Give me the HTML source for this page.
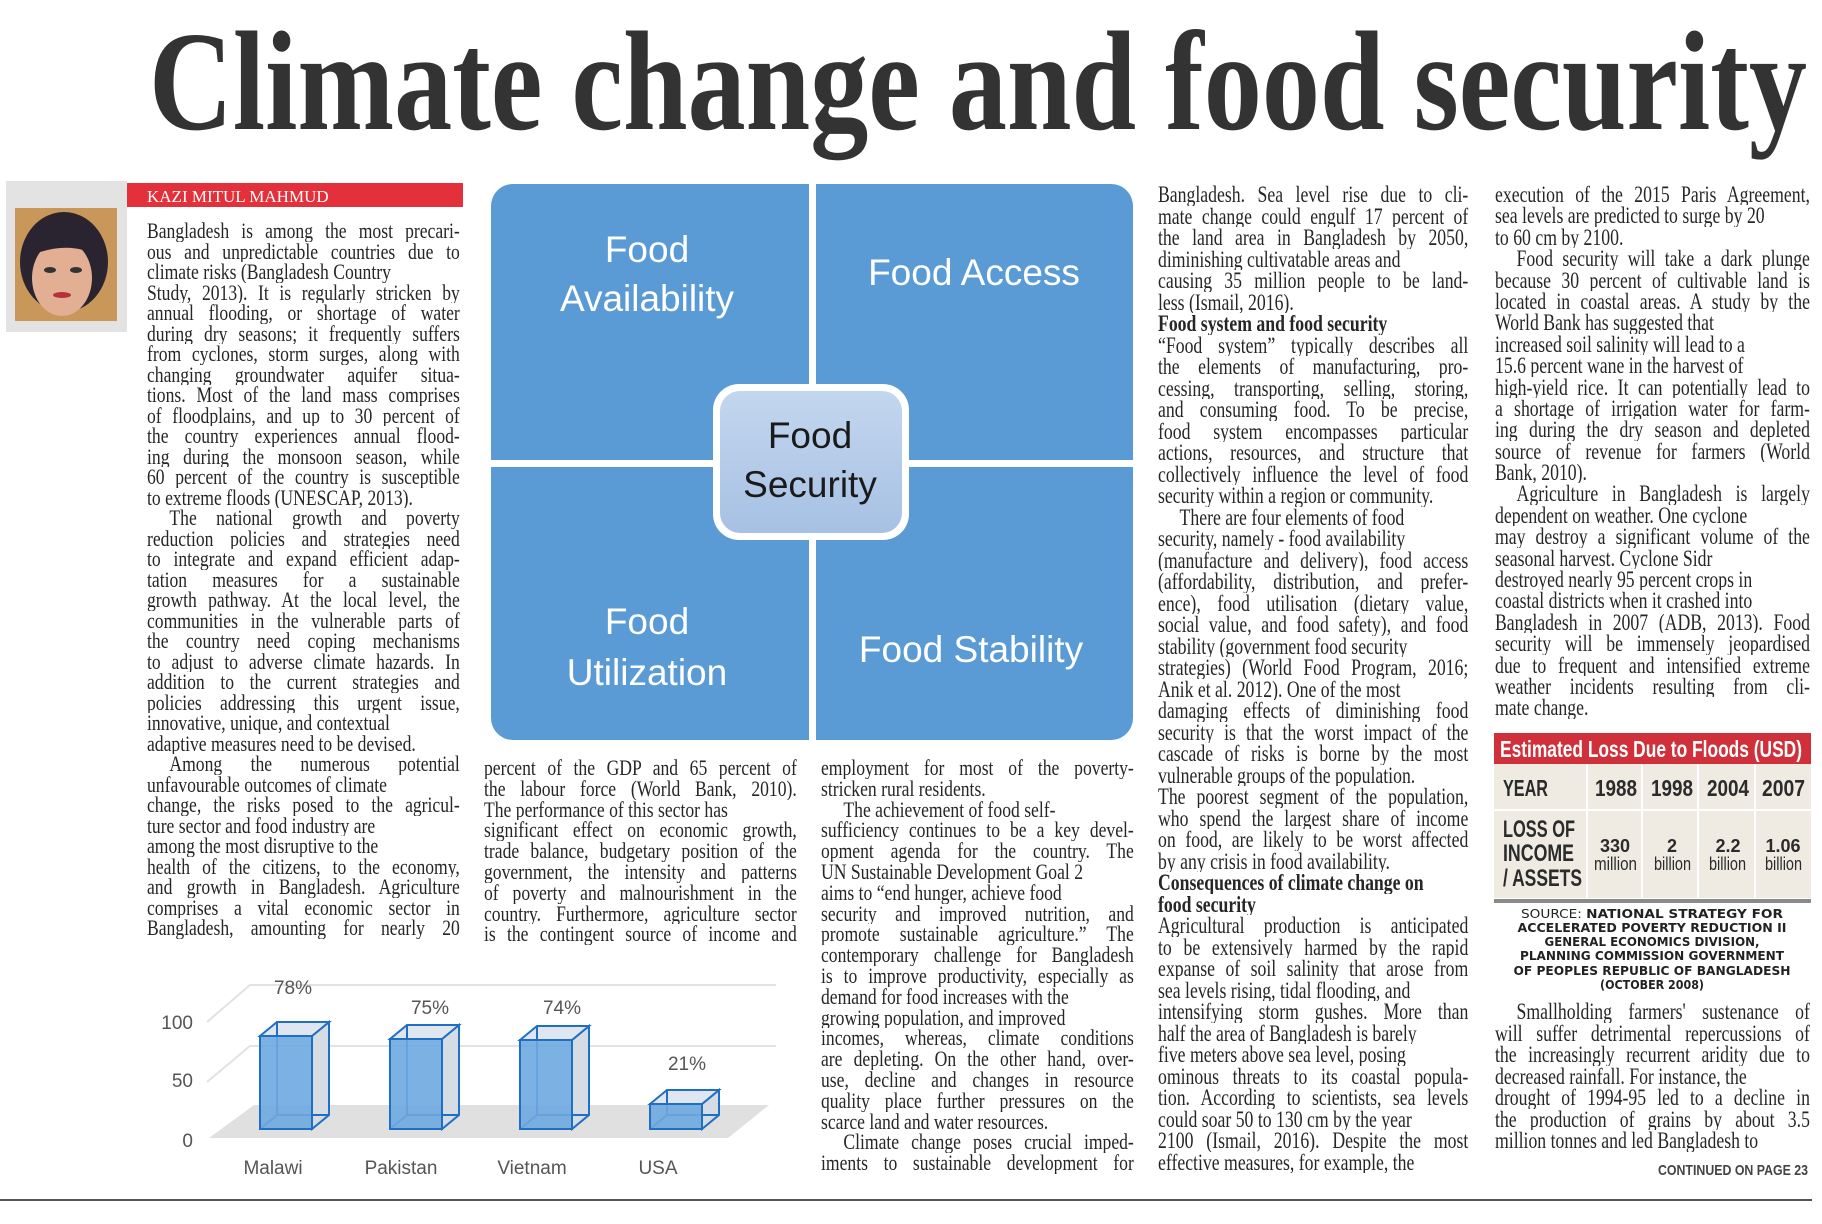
<!DOCTYPE html>
<html><head><meta charset="utf-8">
<style>
html,body{margin:0;padding:0;background:#fff;}
body{width:1822px;height:1224px;position:relative;overflow:hidden;}
svg.g{position:absolute;left:0;top:0;}
.c{position:absolute;transform-origin:0 0;font-family:"Liberation Serif",serif;color:#262626;}
.c p{margin:0;text-align:justify;text-align-last:justify;height:var(--lh);overflow:hidden;}
.c p.e{text-align-last:left;}
.c p.i{text-indent:28px;}
.c p.b{font-weight:bold;text-align-last:left;}
.c1 p,.c2 p,.c3 p{font-size:22px;}
.c4 p,.c5 p,.c6 p{font-size:23px;}
</style></head><body>

<svg class="g" width="1822" height="1224" viewBox="0 0 1822 1224">
  <defs>
    <linearGradient id="cg" x1="0" y1="0" x2="0" y2="1">
      <stop offset="0" stop-color="#c3d6ee"/><stop offset="1" stop-color="#a7c1e4"/>
    </linearGradient>
  </defs>
  <text x="149" y="129" font-family="Liberation Serif, serif" font-weight="bold" font-size="142" fill="#333" textLength="1658" lengthAdjust="spacingAndGlyphs">Climate change and food security</text>

  <rect x="6" y="181" width="121" height="151" fill="#e3e3e3"/>
  <rect x="15" y="208" width="102" height="113" fill="#c9975a"/>
  <ellipse cx="64" cy="262" rx="44" ry="50" fill="#2a2430"/>
  <ellipse cx="62" cy="278" rx="30" ry="38" fill="#e2ae94"/>
  <path d="M24 250 Q40 215 80 222 Q106 232 104 262 Q80 240 40 252 Z" fill="#2a2430"/>
  <ellipse cx="50" cy="270" rx="6" ry="3" fill="#333"/>
  <ellipse cx="76" cy="270" rx="6" ry="3" fill="#333"/>
  <ellipse cx="62" cy="295" rx="9" ry="3" fill="#b8303a"/>

  <rect x="127" y="183" width="336" height="24" fill="#e4303a"/>
  <text x="147" y="202" font-family="Liberation Serif, serif" font-size="17" fill="#fff">KAZI MITUL MAHMUD</text>

  <rect x="491" y="184" width="642" height="556" rx="22" fill="#5b9bd5"/>
  <rect x="809" y="184" width="7" height="556" fill="#fff"/>
  <rect x="491" y="460" width="642" height="7" fill="#fff"/>
  <rect x="713" y="384" width="196" height="156" rx="26" fill="#fff"/>
  <rect x="720" y="391" width="182" height="142" rx="20" fill="url(#cg)"/>
  <g font-family="Liberation Sans, sans-serif" font-size="37" fill="#fff" text-anchor="middle">
    <text x="647" y="262">Food</text>
    <text x="647" y="311">Availability</text>
    <text x="974" y="285">Food Access</text>
    <text x="647" y="634">Food</text>
    <text x="647" y="685">Utilization</text>
    <text x="971" y="662">Food Stability</text>
  </g>
  <g font-family="Liberation Sans, sans-serif" font-size="37" fill="#1a1a1a" text-anchor="middle">
    <text x="810" y="448">Food</text>
    <text x="810" y="497">Security</text>
  </g>

  <rect x="1494" y="733" width="317" height="31" fill="#d0303a"/>
  <text x="1500" y="757" font-family="Liberation Sans, sans-serif" font-weight="bold" font-size="23" fill="#fff" textLength="302" lengthAdjust="spacingAndGlyphs">Estimated Loss Due to Floods (USD)</text>
  <rect x="1494" y="764" width="317" height="134" fill="#efebe3"/>
  <g fill="#fff">
    <rect x="1586" y="764" width="2" height="134"/>
    <rect x="1641" y="764" width="2" height="134"/>
    <rect x="1697" y="764" width="2" height="134"/>
    <rect x="1754" y="764" width="2" height="134"/>
    <rect x="1494" y="809" width="317" height="2"/>
  </g>
  <g font-family="Liberation Sans, sans-serif" font-weight="bold" fill="#2b2b2b">
    <text x="1503" y="796" font-size="23" textLength="45" lengthAdjust="spacingAndGlyphs">YEAR</text>
    <text x="1595" y="796" font-size="23" textLength="42" lengthAdjust="spacingAndGlyphs">1988</text>
    <text x="1651" y="796" font-size="23" textLength="42" lengthAdjust="spacingAndGlyphs">1998</text>
    <text x="1707" y="796" font-size="23" textLength="42" lengthAdjust="spacingAndGlyphs">2004</text>
    <text x="1762" y="796" font-size="23" textLength="43" lengthAdjust="spacingAndGlyphs">2007</text>
    <text x="1503" y="837" font-size="24" textLength="72" lengthAdjust="spacingAndGlyphs">LOSS OF</text>
    <text x="1503" y="861" font-size="24" textLength="71" lengthAdjust="spacingAndGlyphs">INCOME</text>
    <text x="1503" y="886" font-size="24" textLength="79" lengthAdjust="spacingAndGlyphs">/ ASSETS</text>
    <g font-size="18" text-anchor="middle">
      <text x="1615" y="852">330</text>
      <text x="1672" y="852">2</text>
      <text x="1728" y="852">2.2</text>
      <text x="1783" y="852">1.06</text>
    </g>
  </g>
  <g font-family="Liberation Sans, sans-serif" font-size="18" fill="#2b2b2b">
    <text x="1594" y="870" textLength="43" lengthAdjust="spacingAndGlyphs">million</text>
    <text x="1654" y="870" textLength="37" lengthAdjust="spacingAndGlyphs">billion</text>
    <text x="1709" y="870" textLength="37" lengthAdjust="spacingAndGlyphs">billion</text>
    <text x="1765" y="870" textLength="37" lengthAdjust="spacingAndGlyphs">billion</text>
  </g>
  <rect x="1494" y="899" width="317" height="4" fill="#8a8a8a"/>
  <g font-family="DejaVu Sans, sans-serif" font-size="12.5" fill="#222" text-anchor="middle">
    <text x="1652" y="918" textLength="262" lengthAdjust="spacingAndGlyphs">SOURCE: <tspan font-weight="bold">NATIONAL STRATEGY FOR</tspan></text>
    <text x="1652" y="932" font-weight="bold" textLength="269" lengthAdjust="spacingAndGlyphs">ACCELERATED POVERTY REDUCTION II</text>
    <text x="1652" y="946" font-weight="bold" textLength="215" lengthAdjust="spacingAndGlyphs">GENERAL ECONOMICS DIVISION,</text>
    <text x="1652" y="960" font-weight="bold" textLength="264" lengthAdjust="spacingAndGlyphs">PLANNING COMMISSION GOVERNMENT</text>
    <text x="1652" y="975" font-weight="bold" textLength="277" lengthAdjust="spacingAndGlyphs">OF PEOPLES REPUBLIC OF BANGLADESH</text>
    <text x="1652" y="989" font-weight="bold" textLength="104" lengthAdjust="spacingAndGlyphs">(OCTOBER 2008)</text>
  </g>

  <polygon points="209,1138 728,1138 769,1105 254,1105" fill="#e0e0e0"/>
  <g stroke="#e2e2e2" stroke-width="2" fill="none">
    <polyline points="207,1022 250,985 776,985"/>
    <polyline points="207,1082 250,1046 776,1046"/>
  </g>
  <g font-family="Liberation Sans, sans-serif" font-size="19" fill="#555">
    <text x="193" y="1029" text-anchor="end">100</text>
    <text x="193" y="1087" text-anchor="end">50</text>
    <text x="193" y="1147" text-anchor="end">0</text>
    <g text-anchor="middle">
      <text x="293" y="994">78%</text>
      <text x="430" y="1014">75%</text>
      <text x="562" y="1014">74%</text>
      <text x="687" y="1070">21%</text>
      <text x="273" y="1174">Malawi</text>
      <text x="401" y="1174">Pakistan</text>
      <text x="532" y="1174">Vietnam</text>
      <text x="658" y="1174">USA</text>
    </g>
  </g>
  <g stroke="#1f6fc4" stroke-width="2">
    <polygon points="312,1036 329,1022 329,1115 312,1129" fill="#d6dce4"/>
    <polygon points="260,1036 277,1022 329,1022 312,1036" fill="#dfe6ef"/>
    <polyline points="277,1022 277,1115 329,1115" fill="none"/>
    <line x1="260" y1="1129" x2="277" y2="1115"/>
    <rect x="260" y="1036" width="52" height="93" fill="#6ea9e0" fill-opacity="0.9"/>
    <polygon points="442,1039 459,1025 459,1115 442,1129" fill="#d6dce4"/>
    <polygon points="390,1039 407,1025 459,1025 442,1039" fill="#dfe6ef"/>
    <polyline points="407,1025 407,1115 459,1115" fill="none"/>
    <line x1="390" y1="1129" x2="407" y2="1115"/>
    <rect x="390" y="1039" width="52" height="90" fill="#6ea9e0" fill-opacity="0.9"/>
    <polygon points="572,1040 589,1026 589,1115 572,1129" fill="#d6dce4"/>
    <polygon points="520,1040 537,1026 589,1026 572,1040" fill="#dfe6ef"/>
    <polyline points="537,1026 537,1115 589,1115" fill="none"/>
    <line x1="520" y1="1129" x2="537" y2="1115"/>
    <rect x="520" y="1040" width="52" height="89" fill="#6ea9e0" fill-opacity="0.9"/>
    <polygon points="702,1104 719,1090 719,1115 702,1129" fill="#d6dce4"/>
    <polygon points="650,1104 667,1090 719,1090 702,1104" fill="#dfe6ef"/>
    <polyline points="667,1090 667,1115 719,1115" fill="none"/>
    <line x1="650" y1="1129" x2="667" y2="1115"/>
    <rect x="650" y="1104" width="52" height="25" fill="#6ea9e0" fill-opacity="0.9"/>
  </g>

  <text x="1808" y="1175" text-anchor="end" font-family="Liberation Sans, sans-serif" font-weight="bold" font-size="15" fill="#444" textLength="150" lengthAdjust="spacingAndGlyphs">CONTINUED ON PAGE 23</text>
  <rect x="0" y="1199" width="1812" height="2" fill="#555"/>
</svg>

<div class="c c1" style="left:147px;top:221px;width:391px;transform:scaleX(0.80);line-height:20.5px;--lh:20.5px;">
<p>Bangladesh is among the most precari-</p>
<p>ous and unpredictable countries due to</p>
<p class="e">climate risks (Bangladesh Country</p>
<p>Study, 2013). It is regularly stricken by</p>
<p>annual flooding, or shortage of water</p>
<p>during dry seasons; it frequently suffers</p>
<p>from cyclones, storm surges, along with</p>
<p>changing groundwater aquifer situa-</p>
<p>tions. Most of the land mass comprises</p>
<p>of floodplains, and up to 30 percent of</p>
<p>the country experiences annual flood-</p>
<p>ing during the monsoon season, while</p>
<p>60 percent of the country is susceptible</p>
<p class="e">to extreme floods (UNESCAP, 2013).</p>
<p class="i">The national growth and poverty</p>
<p>reduction policies and strategies need</p>
<p>to integrate and expand efficient adap-</p>
<p>tation measures for a sustainable</p>
<p>growth pathway. At the local level, the</p>
<p>communities in the vulnerable parts of</p>
<p>the country need coping mechanisms</p>
<p>to adjust to adverse climate hazards. In</p>
<p>addition to the current strategies and</p>
<p>policies addressing this urgent issue,</p>
<p class="e">innovative, unique, and contextual</p>
<p class="e">adaptive measures need to be devised.</p>
<p class="i">Among the numerous potential</p>
<p class="e">unfavourable outcomes of climate</p>
<p>change, the risks posed to the agricul-</p>
<p class="e">ture sector and food industry are</p>
<p class="e">among the most disruptive to the</p>
<p>health of the citizens, to the economy,</p>
<p>and growth in Bangladesh. Agriculture</p>
<p>comprises a vital economic sector in</p>
<p>Bangladesh, amounting for nearly 20</p>
</div>

<div class="c c2" style="left:484px;top:758px;width:391px;transform:scaleX(0.80);line-height:20.8px;--lh:20.8px;">
<p>percent of the GDP and 65 percent of</p>
<p>the labour force (World Bank, 2010).</p>
<p class="e">The performance of this sector has</p>
<p>significant effect on economic growth,</p>
<p>trade balance, budgetary position of the</p>
<p>government, the intensity and patterns</p>
<p>of poverty and malnourishment in the</p>
<p>country. Furthermore, agriculture sector</p>
<p>is the contingent source of income and</p>
</div>

<div class="c c3" style="left:821px;top:758px;width:391px;transform:scaleX(0.80);line-height:20.8px;--lh:20.8px;">
<p>employment for most of the poverty-</p>
<p class="e">stricken rural residents.</p>
<p class="i e">The achievement of food self-</p>
<p>sufficiency continues to be a key devel-</p>
<p>opment agenda for the country. The</p>
<p class="e">UN Sustainable Development Goal 2</p>
<p class="e">aims to “end hunger, achieve food</p>
<p>security and improved nutrition, and</p>
<p>promote sustainable agriculture.” The</p>
<p>contemporary challenge for Bangladesh</p>
<p>is to improve productivity, especially as</p>
<p class="e">demand for food increases with the</p>
<p class="e">growing population, and improved</p>
<p>incomes, whereas, climate conditions</p>
<p>are depleting. On the other hand, over-</p>
<p>use, decline and changes in resource</p>
<p>quality place further pressures on the</p>
<p class="e">scarce land and water resources.</p>
<p class="i">Climate change poses crucial imped-</p>
<p>iments to sustainable development for</p>
</div>

<div class="c c4" style="left:1158px;top:184px;width:403px;transform:scaleX(0.77);line-height:21.5px;--lh:21.5px;">
<p>Bangladesh. Sea level rise due to cli-</p>
<p>mate change could engulf 17 percent of</p>
<p>the land area in Bangladesh by 2050,</p>
<p class="e">diminishing cultivatable areas and</p>
<p>causing 35 million people to be land-</p>
<p class="e">less (Ismail, 2016).</p>
<p class="b">Food system and food security</p>
<p>“Food system” typically describes all</p>
<p>the elements of manufacturing, pro-</p>
<p>cessing, transporting, selling, storing,</p>
<p>and consuming food. To be precise,</p>
<p>food system encompasses particular</p>
<p>actions, resources, and structure that</p>
<p>collectively influence the level of food</p>
<p class="e">security within a region or community.</p>
<p class="i e">There are four elements of food</p>
<p class="e">security, namely - food availability</p>
<p>(manufacture and delivery), food access</p>
<p>(affordability, distribution, and prefer-</p>
<p>ence), food utilisation (dietary value,</p>
<p>social value, and food safety), and food</p>
<p class="e">stability (government food security</p>
<p>strategies) (World Food Program, 2016;</p>
<p class="e">Anik et al. 2012). One of the most</p>
<p>damaging effects of diminishing food</p>
<p>security is that the worst impact of the</p>
<p>cascade of risks is borne by the most</p>
<p class="e">vulnerable groups of the population.</p>
<p>The poorest segment of the population,</p>
<p>who spend the largest share of income</p>
<p>on food, are likely to be worst affected</p>
<p class="e">by any crisis in food availability.</p>
<p class="b">Consequences of climate change on</p>
<p class="b">food security</p>
<p>Agricultural production is anticipated</p>
<p>to be extensively harmed by the rapid</p>
<p>expanse of soil salinity that arose from</p>
<p class="e">sea levels rising, tidal flooding, and</p>
<p>intensifying storm gushes. More than</p>
<p class="e">half the area of Bangladesh is barely</p>
<p class="e">five meters above sea level, posing</p>
<p>ominous threats to its coastal popula-</p>
<p>tion. According to scientists, sea levels</p>
<p class="e">could soar 50 to 130 cm by the year</p>
<p>2100 (Ismail, 2016). Despite the most</p>
<p class="e">effective measures, for example, the</p>
</div>

<div class="c c5" style="left:1495px;top:184px;width:409px;transform:scaleX(0.77);line-height:21.4px;--lh:21.4px;">
<p>execution of the 2015 Paris Agreement,</p>
<p class="e">sea levels are predicted to surge by 20</p>
<p class="e">to 60 cm by 2100.</p>
<p class="i">Food security will take a dark plunge</p>
<p>because 30 percent of cultivable land is</p>
<p>located in coastal areas. A study by the</p>
<p class="e">World Bank has suggested that</p>
<p class="e">increased soil salinity will lead to a</p>
<p class="e">15.6 percent wane in the harvest of</p>
<p>high-yield rice. It can potentially lead to</p>
<p>a shortage of irrigation water for farm-</p>
<p>ing during the dry season and depleted</p>
<p>source of revenue for farmers (World</p>
<p class="e">Bank, 2010).</p>
<p class="i">Agriculture in Bangladesh is largely</p>
<p class="e">dependent on weather. One cyclone</p>
<p>may destroy a significant volume of the</p>
<p class="e">seasonal harvest. Cyclone Sidr</p>
<p class="e">destroyed nearly 95 percent crops in</p>
<p class="e">coastal districts when it crashed into</p>
<p>Bangladesh in 2007 (ADB, 2013). Food</p>
<p>security will be immensely jeopardised</p>
<p>due to frequent and intensified extreme</p>
<p>weather incidents resulting from cli-</p>
<p class="e">mate change.</p>
</div>

<div class="c c6" style="left:1495px;top:1001px;width:409px;transform:scaleX(0.77);line-height:21.5px;--lh:21.5px;">
<p class="i">Smallholding farmers' sustenance of</p>
<p>will suffer detrimental repercussions of</p>
<p>the increasingly recurrent aridity due to</p>
<p class="e">decreased rainfall. For instance, the</p>
<p>drought of 1994-95 led to a decline in</p>
<p>the production of grains by about 3.5</p>
<p class="e">million tonnes and led Bangladesh to</p>
</div>

</body></html>
